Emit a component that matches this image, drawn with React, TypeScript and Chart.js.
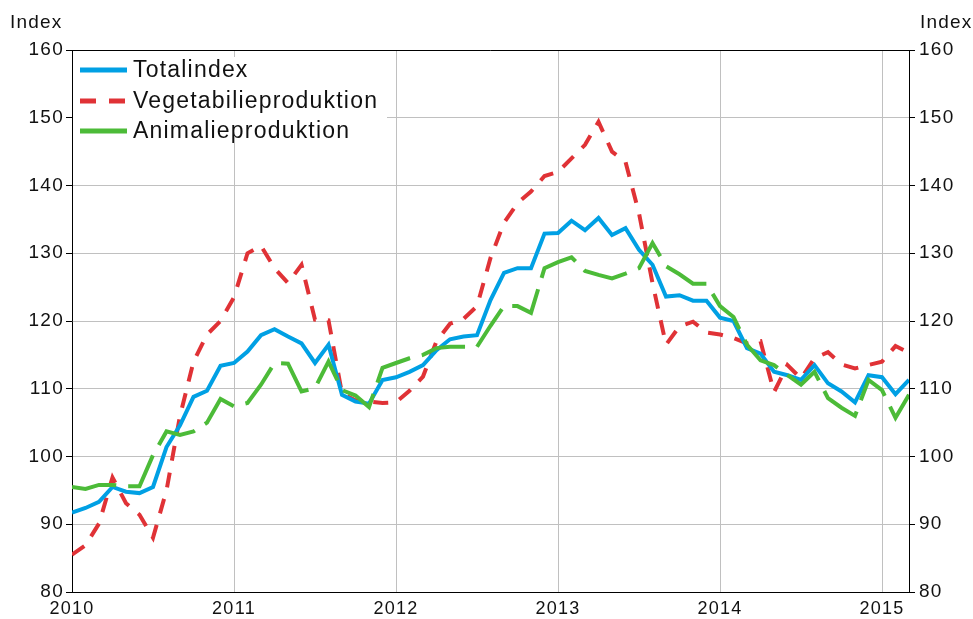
import React, { useEffect, useRef } from 'react';
import { Chart, registerables } from 'chart.js';

Chart.register(...registerables);

const yearLabels = ['2010', '2011', '2012', '2013', '2014', '2015'];
const seriesNames = ['Totalindex', 'Vegetabilieproduktion', 'Animalieproduktion'];
const axisTitle = 'Index';

// Monthly values, Jan 2010 .. Mar 2015
const totalIndex = [
  91.7, 92.4, 93.3, 95.5, 94.8, 94.6, 95.5, 101.4, 104.6, 108.8, 109.7, 113.4,
  113.8, 115.5, 117.9, 118.8, 117.7, 116.7, 113.8, 116.5, 109.1, 108.1, 107.8, 111.3,
  111.7, 112.5, 113.5, 115.7, 117.3, 117.7, 117.9, 123.1, 127.1, 127.8, 127.8, 132.9,
  133.0, 134.8, 133.4, 135.2, 132.7, 133.7, 130.5, 128.3, 123.6, 123.8, 123.0, 123.0,
  120.5, 120.0, 116.0, 115.2, 112.5, 112.0, 111.3, 113.5, 110.8, 109.6, 108.0, 112.0,
  111.7, 109.2, 111.3,
];
const vegetabilie = [
  85.5, 86.9, 90.1, 96.9, 93.1, 91.4, 88.0, 95.0, 106.0, 114.0, 118.0, 120.0,
  123.5, 130.0, 131.1, 127.8, 125.6, 128.3, 120.2, 120.1, 109.3, 108.3, 108.1, 107.9,
  108.0, 109.7, 111.8, 117.0, 119.6, 120.3, 122.2, 129.3, 134.5, 137.4, 139.1, 141.4,
  142.0, 144.0, 146.0, 149.4, 145.0, 143.5, 135.9, 125.6, 116.5, 119.2, 119.9, 118.3,
  118.0, 117.5, 116.7, 117.0, 109.5, 113.5, 111.5, 114.5, 115.4, 113.6, 113.0, 113.5,
  114.0, 116.3, 115.3,
];
const animalie = [
  95.5, 95.2, 95.8, 95.8, 95.6, 95.6, 100.2, 103.7, 103.2, 103.7, 105.0, 108.5,
  107.4, 107.9, 110.6, 113.8, 113.7, 109.6, 110.1, 114.0, 109.8, 109.0, 107.3, 113.1,
  113.8, 114.5, 115.0, 116.0, 116.2, 116.2, 116.2, 119.3, 122.2, 122.2, 121.2, 127.8,
  128.7, 129.4, 127.4, 126.8, 126.3, 127.0, 127.8, 131.5, 128.1, 126.9, 125.5, 125.5,
  122.2, 120.6, 116.5, 114.2, 113.5, 112.0, 110.6, 112.5, 108.6, 107.2, 106.0, 111.3,
  109.8, 105.7, 109.1,
];

const BLUE = '#00A0E4';
const RED = '#E03236';
const GREEN = '#4CBB38';
const FONT = '"Liberation Sans", Arial, sans-serif';

const toPoints = (arr: number[]) => arr.map((v, i) => ({ x: i, y: v }));

const decorPlugin = {
  id: 'decor',
  beforeDraw(chart: any) {
    chart.ctx.letterSpacing = '1.3px';
  },
  afterDraw(chart: any) {
    const { ctx, chartArea } = chart;
    ctx.save();
    // top frame
    ctx.strokeStyle = '#000';
    ctx.lineWidth = 1;
    ctx.beginPath();
    ctx.moveTo(chartArea.left, chartArea.top + 0.5);
    ctx.lineTo(chartArea.right, chartArea.top + 0.5);
    ctx.stroke();

    // axis titles
    ctx.fillStyle = '#111';
    ctx.font = `19px ${FONT}`;
    (ctx as any).letterSpacing = '1.2px';
    ctx.textBaseline = 'middle';
    ctx.textAlign = 'left';
    ctx.fillText(axisTitle, 10, 23);
    ctx.fillText(axisTitle, 920, 23);

    // legend box
    const lx = chartArea.left;
    const ly = chartArea.top;
    ctx.fillStyle = '#fff';
    ctx.fillRect(lx + 1, ly + 7, 314, 86);

    const colors = [BLUE, RED, GREEN];
    const dashes = [[], [16, 13], []];
    const rows = [ly + 20, ly + 51, ly + 81];
    ctx.font = `23px ${FONT}`;
    (ctx as any).letterSpacing = '1.2px';
    seriesNames.forEach((name, i) => {
      ctx.strokeStyle = colors[i];
      ctx.lineWidth = 5;
      ctx.setLineDash(dashes[i]);
      ctx.beginPath();
      ctx.moveTo(lx + 8, rows[i]);
      ctx.lineTo(lx + 55, rows[i]);
      ctx.stroke();
      ctx.setLineDash([]);
      ctx.fillStyle = '#111';
      ctx.fillText(name, lx + 61, rows[i] + 1);
    });
    ctx.restore();
  },
};

export default function App() {
  const ref = useRef<HTMLCanvasElement | null>(null);

  useEffect(() => {
    if (!ref.current) return;
    const xFont = { family: FONT, size: 18 };
    const yFont = { family: FONT, size: 19 };
    const chart = new Chart(ref.current, {
      type: 'line',
      data: {
        datasets: [
          {
            label: seriesNames[0],
            data: toPoints(totalIndex),
            borderColor: BLUE,
            borderWidth: 4,
            pointRadius: 0,
            tension: 0,
            order: 1,
            yAxisID: 'y',
          },
          {
            label: seriesNames[1],
            data: toPoints(vegetabilie),
            borderColor: RED,
            borderWidth: 4,
            borderDash: [15, 12],
            pointRadius: 0,
            tension: 0,
            order: 2,
            yAxisID: 'y',
          },
          {
            label: seriesNames[2],
            data: toPoints(animalie),
            borderColor: GREEN,
            borderWidth: 4,
            borderDash: [45, 12],
            pointRadius: 0,
            tension: 0,
            order: 0,
            yAxisID: 'y',
          },
        ],
      },
      options: {
        responsive: false,
        animation: false,
        events: [],
        layout: { padding: { top: 50, left: 0, right: 0, bottom: 0 } },
        plugins: {
          legend: { display: false },
          tooltip: { enabled: false },
        },
        scales: {
          x: {
            type: 'linear',
            min: 0,
            max: totalIndex.length - 1,
            afterBuildTicks: (scale: any) => {
              scale.ticks = yearLabels.map((_, i) => ({ value: i * 12 }));
            },
            afterFit: (scale: any) => {
              scale.height = 27;
            },
            ticks: {
              callback: (v: any) => yearLabels[Math.round(Number(v) / 12)] ?? '',
              font: xFont,
              color: '#111',
              padding: 6,
              maxRotation: 0,
              autoSkip: false,
            },
            grid: { color: '#c0c0c0', lineWidth: 1, drawTicks: false },
            border: { color: '#000', width: 1 },
          },
          y: {
            position: 'left',
            min: 80,
            max: 160,
            afterFit: (scale: any) => {
              scale.width = 72;
            },
            ticks: { stepSize: 10, font: yFont, color: '#111', padding: 2 },
            grid: { color: '#c0c0c0', lineWidth: 1, tickColor: '#000', tickLength: 6 },
            border: { color: '#000', width: 1 },
          },
          y2: {
            position: 'right',
            min: 80,
            max: 160,
            afterFit: (scale: any) => {
              scale.width = 64;
            },
            ticks: { stepSize: 10, font: yFont, color: '#111', padding: 4 },
            grid: { drawOnChartArea: false, tickColor: '#000', tickLength: 6 },
            border: { color: '#000', width: 1 },
          },
        },
      },
      plugins: [decorPlugin],
    } as any);
    return () => chart.destroy();
  }, []);

  return (
    <div style={{ position: 'absolute', left: 0, top: 0, width: 973, height: 619, background: '#fff' }}>
      <canvas ref={ref} width={973} height={619} style={{ width: 973, height: 619 }} />
    </div>
  );
}
